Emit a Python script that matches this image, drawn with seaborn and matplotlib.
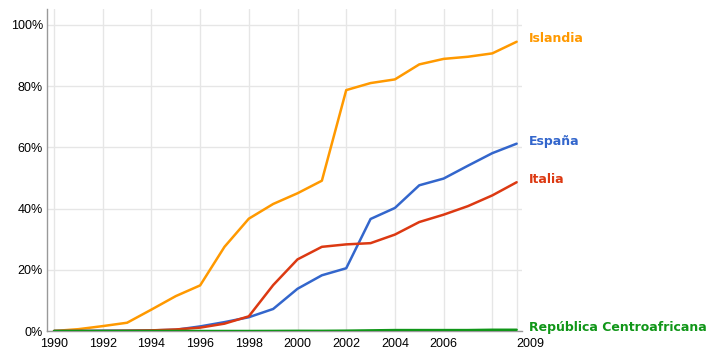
import pandas as pd
import numpy as np
import seaborn as sns
import matplotlib.pyplot as plt

# datos (% de usuarios)
anios = list(range(1990, 2010))
islandia = [0, 0.6, 1.6, 2.7, 7.0, 11.4, 14.9, 27.5, 36.7, 41.5,
            45.0, 49.1, 78.7, 81.0, 82.2, 87.1, 88.9, 89.6, 90.7, 94.5]
espana = [0, 0, 0.1, 0.1, 0.2, 0.4, 1.5, 2.9, 4.5, 7.2,
          13.8, 18.2, 20.5, 36.6, 40.2, 47.6, 49.8, 54.0, 58.1, 61.2]
italia = [0, 0, 0, 0.1, 0.2, 0.5, 1.1, 2.4, 4.8, 15.0,
          23.4, 27.5, 28.3, 28.7, 31.5, 35.6, 38.0, 40.8, 44.3, 48.6]
rca = [0, 0, 0, 0, 0, 0, 0, 0, 0, 0.02,
       0.05, 0.05, 0.1, 0.2, 0.3, 0.3, 0.3, 0.3, 0.4, 0.4]

paises = ["Islandia", "España", "Italia", "República Centroafricana"]
colores = ["#FF9900", "#3366CC", "#DC3912", "#109618"]
ticks_x = [1990, 1992, 1994, 1996, 1998, 2000, 2002, 2004, 2006, 2009]
ticks_y = [0, 20, 40, 60, 80, 100]

df = pd.DataFrame({"anio": anios * 4,
                   "valor": islandia + espana + italia + rca,
                   "pais": np.repeat(paises, len(anios))})

sns.set_style("white")
plt.rcParams['font.family'] = ['Liberation Sans', 'DejaVu Sans']

fig = plt.figure(figsize=(7.16, 3.56), dpi=100)
ax = fig.add_axes([47/716, 1-331/356, (522-47)/716, (331-9)/356])

sns.lineplot(data=df, x="anio", y="valor", hue="pais", hue_order=paises,
             palette=dict(zip(paises, colores)), linewidth=1.8, ax=ax,
             legend=False, zorder=3)

ax.set_xlim(1989.71, 2009.22)
ax.set_ylim(0, 105.2)
ax.set_xticks(ticks_x)
ax.set_xticklabels([str(t) for t in ticks_x])
ax.set_xticks([2008], minor=True)
ax.set_yticks(ticks_y)
ax.set_yticklabels([f"{t}%" for t in ticks_y])
ax.grid(True, which="both", color="#e6e6e6", linewidth=1)
ax.set_axisbelow(True)
ax.set_xlabel("")
ax.set_ylabel("")
ax.tick_params(axis="both", labelsize=9, colors="black", length=0, pad=3)
ax.tick_params(axis="x", which="both", length=3, color="#999999", pad=2)
# el ultimo año va alineado a la izquierda
ult = ax.get_xticklabels()[-1]
ult.set_horizontalalignment("left")
ult.set_x(2009)

for s in ["top", "right"]:
    ax.spines[s].set_visible(False)
for s in ["left", "bottom"]:
    ax.spines[s].set_color("#999999")
    ax.spines[s].set_linewidth(1)

# etiquetas a la derecha
pos_y = [95.4, 62.0, 49.4, 1.3]
for nombre, c, y in zip(paises, colores, pos_y):
    ax.annotate(nombre, xy=(1, y / 105.2), xycoords="axes fraction",
                xytext=(5, 0), textcoords="offset points", color=c,
                fontsize=9, fontweight="bold", family="DejaVu Sans",
                va="center", ha="left", annotation_clip=False)

fig.savefig("out.png", dpi=100)
